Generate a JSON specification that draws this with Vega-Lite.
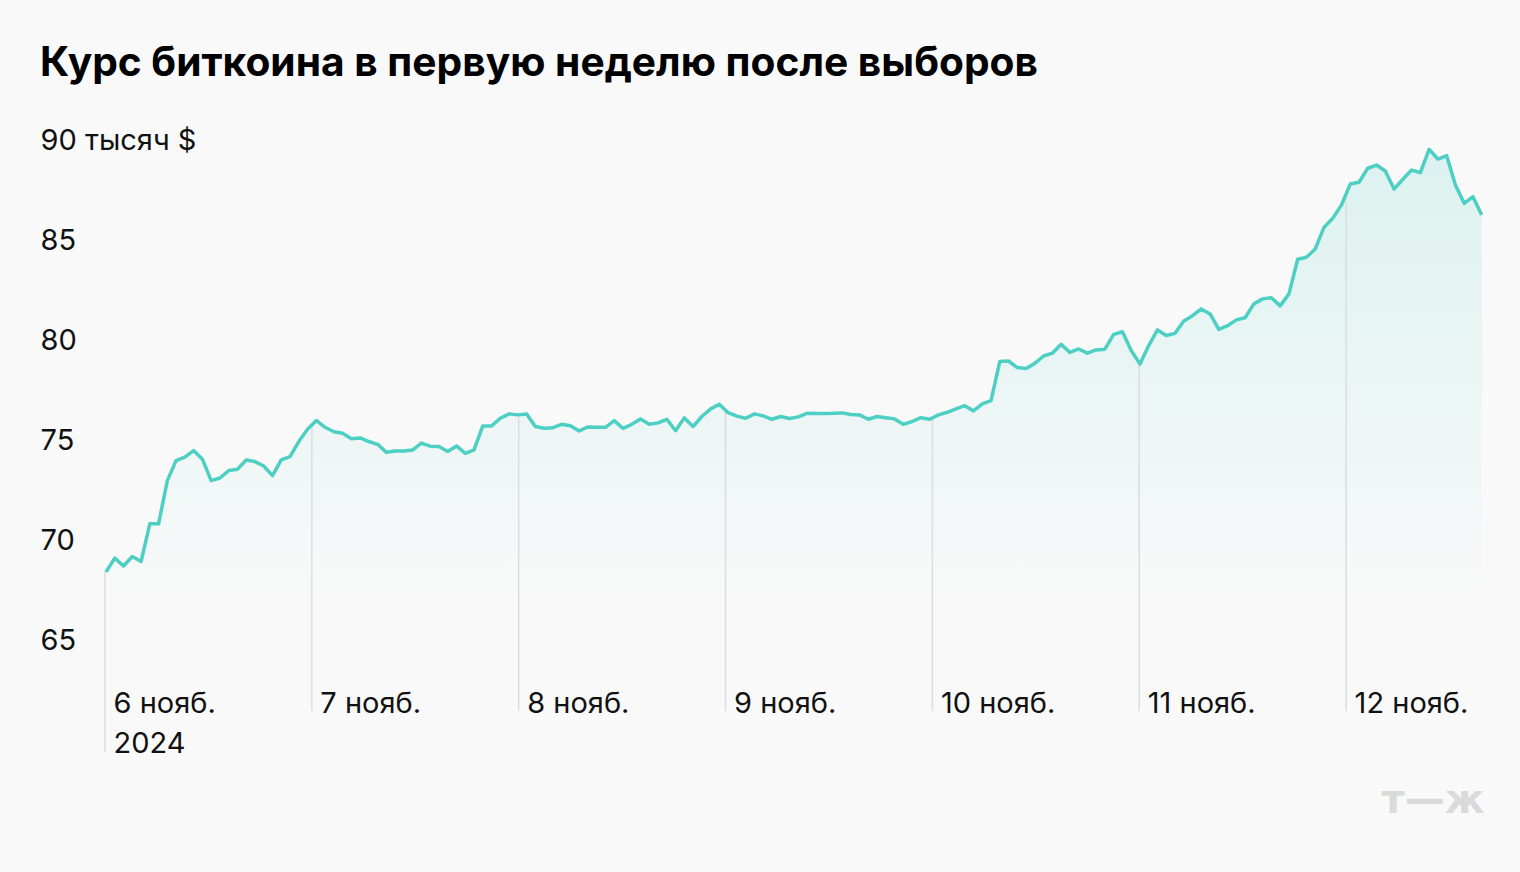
{
  "$schema": "https://vega.github.io/schema/vega-lite/v6.json",
  "autosize": {"type": "none"},
  "width": 1379,
  "height": 571,
  "padding": {"left": 105, "top": 140, "right": 36, "bottom": 161},
  "background": "#f9f9f9",
  "title": {
    "text": "Курс биткоина в первую неделю после выборов",
    "anchor": "start",
    "frame": "bounds",
    "font": "Inter",
    "fontSize": 40.7,
    "fontWeight": "bold",
    "color": "#000000",
    "baseline": "alphabetic",
    "offset": 9
  },
  "config": {
    "view": {"stroke": null},
    "axis": {"labelFont": "Inter", "labelFontSize": 29, "labelColor": "#111111", "titleFont": "Inter"}
  },
  "datasets": {
    "price": [
      {"t": "2024-11-06T00:07", "v": 68.44},
      {"t": "2024-11-06T01:08", "v": 69.13},
      {"t": "2024-11-06T02:09", "v": 68.74},
      {"t": "2024-11-06T03:10", "v": 69.21},
      {"t": "2024-11-06T04:11", "v": 68.96},
      {"t": "2024-11-06T05:12", "v": 70.84},
      {"t": "2024-11-06T06:13", "v": 70.84},
      {"t": "2024-11-06T07:14", "v": 73.0},
      {"t": "2024-11-06T08:15", "v": 74.0},
      {"t": "2024-11-06T09:16", "v": 74.17},
      {"t": "2024-11-06T10:17", "v": 74.5},
      {"t": "2024-11-06T11:18", "v": 74.07},
      {"t": "2024-11-06T12:19", "v": 73.0},
      {"t": "2024-11-06T13:20", "v": 73.13},
      {"t": "2024-11-06T14:21", "v": 73.5},
      {"t": "2024-11-06T15:22", "v": 73.57},
      {"t": "2024-11-06T16:23", "v": 74.03},
      {"t": "2024-11-06T17:24", "v": 73.95},
      {"t": "2024-11-06T18:25", "v": 73.73},
      {"t": "2024-11-06T19:26", "v": 73.25},
      {"t": "2024-11-06T20:27", "v": 74.03},
      {"t": "2024-11-06T21:28", "v": 74.2},
      {"t": "2024-11-06T22:29", "v": 74.95},
      {"t": "2024-11-06T23:30", "v": 75.56},
      {"t": "2024-11-07T00:31", "v": 76.0},
      {"t": "2024-11-07T01:32", "v": 75.66},
      {"t": "2024-11-07T02:33", "v": 75.44},
      {"t": "2024-11-07T03:34", "v": 75.36},
      {"t": "2024-11-07T04:35", "v": 75.09},
      {"t": "2024-11-07T05:36", "v": 75.13},
      {"t": "2024-11-07T06:37", "v": 74.95},
      {"t": "2024-11-07T07:38", "v": 74.81},
      {"t": "2024-11-07T08:39", "v": 74.41},
      {"t": "2024-11-07T09:40", "v": 74.48},
      {"t": "2024-11-07T10:41", "v": 74.48},
      {"t": "2024-11-07T11:42", "v": 74.53},
      {"t": "2024-11-07T12:43", "v": 74.87},
      {"t": "2024-11-07T13:44", "v": 74.72},
      {"t": "2024-11-07T14:45", "v": 74.7},
      {"t": "2024-11-07T15:46", "v": 74.45},
      {"t": "2024-11-07T16:47", "v": 74.73},
      {"t": "2024-11-07T17:48", "v": 74.36},
      {"t": "2024-11-07T18:49", "v": 74.53},
      {"t": "2024-11-07T19:50", "v": 75.73},
      {"t": "2024-11-07T20:51", "v": 75.73},
      {"t": "2024-11-07T21:52", "v": 76.11},
      {"t": "2024-11-07T22:53", "v": 76.33},
      {"t": "2024-11-07T23:54", "v": 76.28},
      {"t": "2024-11-08T00:55", "v": 76.32},
      {"t": "2024-11-08T01:56", "v": 75.7},
      {"t": "2024-11-08T02:57", "v": 75.61},
      {"t": "2024-11-08T03:58", "v": 75.64},
      {"t": "2024-11-08T04:59", "v": 75.81},
      {"t": "2024-11-08T06:00", "v": 75.74},
      {"t": "2024-11-08T07:01", "v": 75.48},
      {"t": "2024-11-08T08:02", "v": 75.68},
      {"t": "2024-11-08T09:03", "v": 75.66},
      {"t": "2024-11-08T10:04", "v": 75.66},
      {"t": "2024-11-08T11:05", "v": 75.99},
      {"t": "2024-11-08T12:06", "v": 75.61},
      {"t": "2024-11-08T13:07", "v": 75.81},
      {"t": "2024-11-08T14:08", "v": 76.08},
      {"t": "2024-11-08T15:09", "v": 75.81},
      {"t": "2024-11-08T16:10", "v": 75.88},
      {"t": "2024-11-08T17:11", "v": 76.06},
      {"t": "2024-11-08T18:12", "v": 75.49},
      {"t": "2024-11-08T19:13", "v": 76.13},
      {"t": "2024-11-08T20:14", "v": 75.7},
      {"t": "2024-11-08T21:15", "v": 76.2},
      {"t": "2024-11-08T22:16", "v": 76.58},
      {"t": "2024-11-08T23:17", "v": 76.81},
      {"t": "2024-11-09T00:18", "v": 76.39},
      {"t": "2024-11-09T01:19", "v": 76.22},
      {"t": "2024-11-09T02:20", "v": 76.11},
      {"t": "2024-11-09T03:21", "v": 76.33},
      {"t": "2024-11-09T04:22", "v": 76.23},
      {"t": "2024-11-09T05:23", "v": 76.06},
      {"t": "2024-11-09T06:24", "v": 76.2},
      {"t": "2024-11-09T07:25", "v": 76.1},
      {"t": "2024-11-09T08:26", "v": 76.18},
      {"t": "2024-11-09T09:27", "v": 76.36},
      {"t": "2024-11-09T10:28", "v": 76.35},
      {"t": "2024-11-09T11:29", "v": 76.35},
      {"t": "2024-11-09T12:30", "v": 76.36},
      {"t": "2024-11-09T13:31", "v": 76.38},
      {"t": "2024-11-09T14:32", "v": 76.3},
      {"t": "2024-11-09T15:33", "v": 76.28},
      {"t": "2024-11-09T16:34", "v": 76.06},
      {"t": "2024-11-09T17:35", "v": 76.2},
      {"t": "2024-11-09T18:36", "v": 76.14},
      {"t": "2024-11-09T19:37", "v": 76.08},
      {"t": "2024-11-09T20:38", "v": 75.81},
      {"t": "2024-11-09T21:39", "v": 75.95},
      {"t": "2024-11-09T22:40", "v": 76.14},
      {"t": "2024-11-09T23:41", "v": 76.06},
      {"t": "2024-11-10T00:42", "v": 76.28},
      {"t": "2024-11-10T01:43", "v": 76.41},
      {"t": "2024-11-10T02:44", "v": 76.58},
      {"t": "2024-11-10T03:45", "v": 76.74},
      {"t": "2024-11-10T04:46", "v": 76.48},
      {"t": "2024-11-10T05:47", "v": 76.83},
      {"t": "2024-11-10T06:48", "v": 76.99},
      {"t": "2024-11-10T07:49", "v": 78.94},
      {"t": "2024-11-10T08:50", "v": 78.97},
      {"t": "2024-11-10T09:51", "v": 78.64},
      {"t": "2024-11-10T10:52", "v": 78.6},
      {"t": "2024-11-10T11:53", "v": 78.85},
      {"t": "2024-11-10T12:54", "v": 79.22},
      {"t": "2024-11-10T13:55", "v": 79.36},
      {"t": "2024-11-10T14:56", "v": 79.8},
      {"t": "2024-11-10T15:57", "v": 79.4},
      {"t": "2024-11-10T16:58", "v": 79.57},
      {"t": "2024-11-10T17:59", "v": 79.36},
      {"t": "2024-11-10T19:00", "v": 79.52},
      {"t": "2024-11-10T20:01", "v": 79.56},
      {"t": "2024-11-10T21:02", "v": 80.3},
      {"t": "2024-11-10T22:03", "v": 80.43},
      {"t": "2024-11-10T23:04", "v": 79.49},
      {"t": "2024-11-11T00:05", "v": 78.82},
      {"t": "2024-11-11T01:06", "v": 79.74},
      {"t": "2024-11-11T02:07", "v": 80.52},
      {"t": "2024-11-11T03:08", "v": 80.24},
      {"t": "2024-11-11T04:09", "v": 80.35},
      {"t": "2024-11-11T05:10", "v": 80.97},
      {"t": "2024-11-11T06:11", "v": 81.23},
      {"t": "2024-11-11T07:12", "v": 81.57},
      {"t": "2024-11-11T08:13", "v": 81.32},
      {"t": "2024-11-11T09:14", "v": 80.55},
      {"t": "2024-11-11T10:15", "v": 80.73},
      {"t": "2024-11-11T11:16", "v": 81.02},
      {"t": "2024-11-11T12:17", "v": 81.13},
      {"t": "2024-11-11T13:18", "v": 81.82},
      {"t": "2024-11-11T14:19", "v": 82.07},
      {"t": "2024-11-11T15:20", "v": 82.13},
      {"t": "2024-11-11T16:21", "v": 81.72},
      {"t": "2024-11-11T17:22", "v": 82.32},
      {"t": "2024-11-11T18:23", "v": 84.05},
      {"t": "2024-11-11T19:24", "v": 84.15},
      {"t": "2024-11-11T20:25", "v": 84.56},
      {"t": "2024-11-11T21:26", "v": 85.64},
      {"t": "2024-11-11T22:27", "v": 86.09},
      {"t": "2024-11-11T23:28", "v": 86.76},
      {"t": "2024-11-12T00:29", "v": 87.8},
      {"t": "2024-11-12T01:30", "v": 87.89},
      {"t": "2024-11-12T02:31", "v": 88.59},
      {"t": "2024-11-12T03:32", "v": 88.75},
      {"t": "2024-11-12T04:33", "v": 88.45},
      {"t": "2024-11-12T05:34", "v": 87.55},
      {"t": "2024-11-12T06:35", "v": 88.04},
      {"t": "2024-11-12T07:36", "v": 88.5},
      {"t": "2024-11-12T08:37", "v": 88.37},
      {"t": "2024-11-12T09:38", "v": 89.53},
      {"t": "2024-11-12T10:39", "v": 89.05},
      {"t": "2024-11-12T11:40", "v": 89.22},
      {"t": "2024-11-12T12:41", "v": 87.75},
      {"t": "2024-11-12T13:42", "v": 86.84},
      {"t": "2024-11-12T14:43", "v": 87.17},
      {"t": "2024-11-12T15:44", "v": 86.26}
    ],
    "days": [
      {"t": "2024-11-06T00:00", "v": 68.44},
      {"t": "2024-11-07T00:00", "v": 75.8},
      {"t": "2024-11-08T00:00", "v": 76.29},
      {"t": "2024-11-09T00:00", "v": 76.5},
      {"t": "2024-11-10T00:00", "v": 76.17},
      {"t": "2024-11-11T00:00", "v": 78.82},
      {"t": "2024-11-12T00:00", "v": 87.5}
    ]
  },
  "layer": [
    {
      "data": {"name": "price"},
      "mark": {
        "type": "area",
        "fill": {
          "gradient": "linear", "x1": 0, "y1": 0, "x2": 0, "y2": 1,
          "stops": [
            {"offset": 0, "color": "rgba(78,207,195,0.17)"},
            {"offset": 0.5, "color": "rgba(78,207,195,0.07)"},
            {"offset": 0.8, "color": "rgba(78,207,195,0)"}
          ]
        }
      },
      "encoding": {
        "x": {
          "field": "t", "type": "temporal",
          "scale": {"domain": ["2024-11-06T00:00", "2024-11-12T16:00"]},
          "axis": {
            "zindex": 1,
            "values": ["2024-11-06T00:00", "2024-11-07T00:00", "2024-11-08T00:00", "2024-11-09T00:00", "2024-11-10T00:00", "2024-11-11T00:00", "2024-11-12T00:00"],
            "labelExpr": "date(datum.value) == 6 ? [date(datum.value) + ' нояб.', '2024'] : date(datum.value) + ' нояб.'",
            "labelAlign": "left",
            "labelBaseline": "alphabetic",
            "labelOffset": 8,
            "labelPadding": 1,
            "labelLineHeight": 40,
            "labelOverlap": false,
            "labelFlush": false,
            "ticks": false,
            "tickSize": 0,
            "domain": false,
            "grid": false,
            "title": "т—ж",
            "titleFont": "DejaVu Sans",
            "titleFontSize": 40,
            "titleFontWeight": "bold",
            "titleColor": "#dadada",
            "titleAnchor": "end",
            "titleAlign": "right",
            "titleBaseline": "top",
            "titlePadding": 22
          }
        },
        "y": {
          "field": "v", "type": "quantitative",
          "scale": {"domain": [61.5, 90], "nice": false, "zero": false},
          "axis": {
            "zindex": 1,
            "values": [65, 70, 75, 80, 85, 90],
            "labelExpr": "datum.value == 90 ? '90 тысяч $' : datum.label",
            "labelAlign": "left",
            "labelBaseline": "middle",
            "labelPadding": 65,
            "ticks": false,
            "tickSize": 0,
            "domain": false,
            "grid": false,
            "title": null
          }
        },
        "y2": {"datum": 61.5}
      }
    },
    {
      "data": {"name": "days"},
      "mark": {"type": "rule", "color": "#dddddd", "strokeWidth": 1.5},
      "encoding": {
        "x": {"field": "t", "type": "temporal"},
        "y": {"field": "v", "type": "quantitative"},
        "y2": {"datum": 61.5}
      }
    },
    {
      "data": {"name": "days"},
      "transform": [{"filter": "date(datum.t) == 6"}],
      "mark": {"type": "rule", "color": "#dddddd", "strokeWidth": 1.5},
      "encoding": {
        "x": {"field": "t", "type": "temporal"},
        "y": {"datum": 61.5},
        "y2": {"datum": 59.45}
      }
    },
    {
      "data": {"name": "price"},
      "mark": {"type": "line", "color": "#4ecfc3", "strokeWidth": 3.5, "strokeJoin": "round"},
      "encoding": {
        "x": {"field": "t", "type": "temporal"},
        "y": {"field": "v", "type": "quantitative"}
      }
    }
  ]
}
